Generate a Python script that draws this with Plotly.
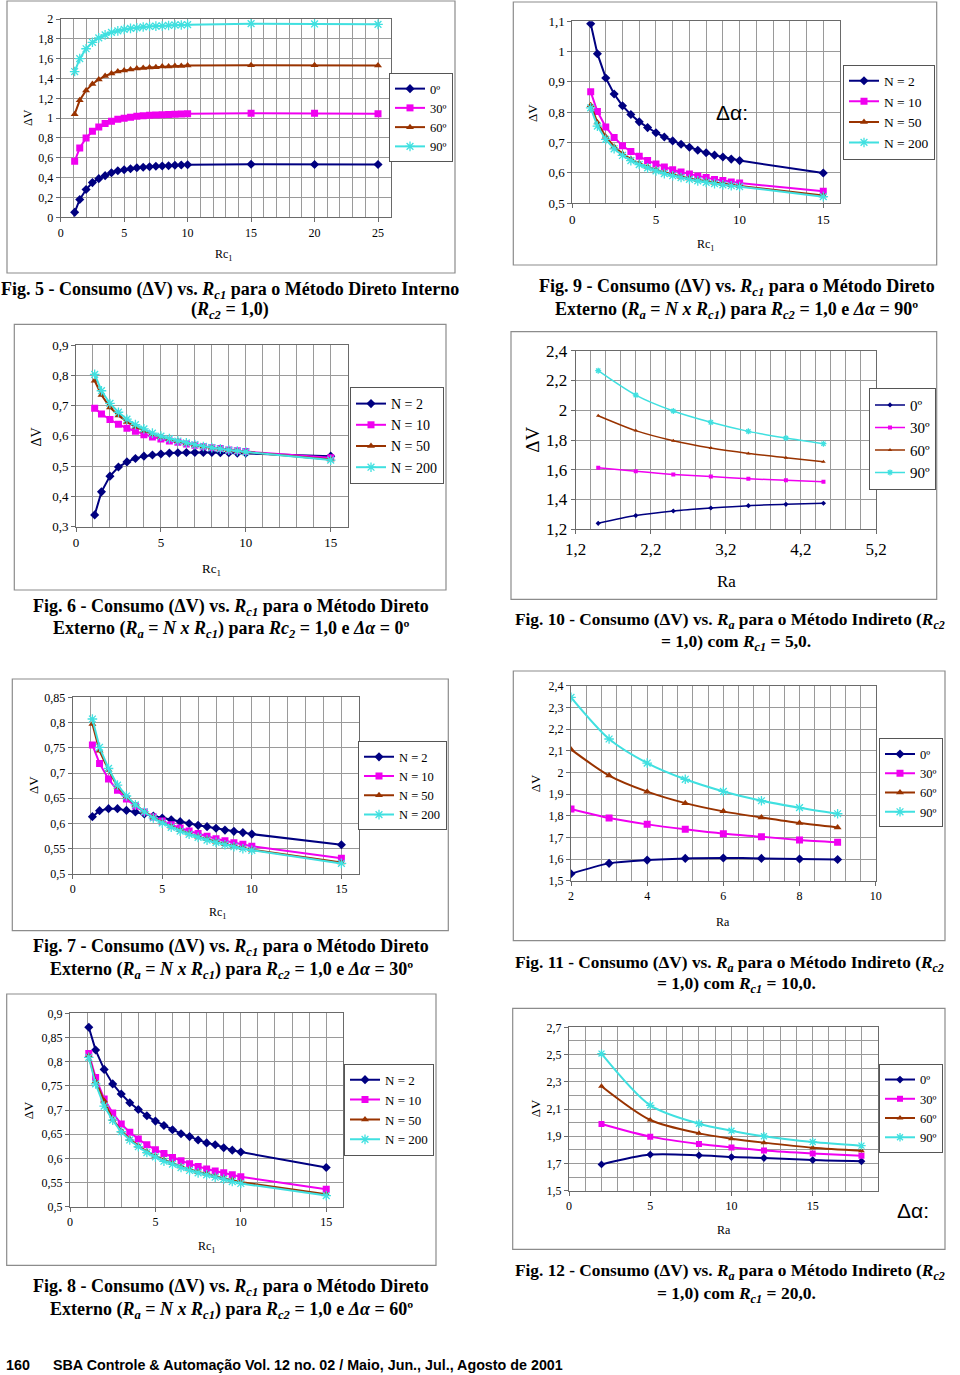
import plotly.graph_objects as go

W, H = 960, 1375
SERIF = "Liberation Serif"
SANS = "Liberation Sans"

# ---------------- data ----------------
RC1_LONG = [1.1, 1.5, 2.0, 2.5, 3.0, 3.5, 4.0, 4.5, 5.0, 5.5, 6.0, 6.5, 7.0, 7.5, 8.0, 8.5, 9.0, 9.5, 10.0, 15.0, 20.0, 25.0]
RC1 = [1.1, 1.5, 2.0, 2.5, 3.0, 3.5, 4.0, 4.5, 5.0, 5.5, 6.0, 6.5, 7.0, 7.5, 8.0, 8.5, 9.0, 9.5, 10.0, 15.0]
RA_F10 = [1.5, 2.0, 2.5, 3.0, 3.5, 4.0, 4.5]
RA_F11 = [2, 3, 4, 5, 6, 7, 8, 9]
RA_F12 = [2, 5, 8, 10, 12, 15, 18]

ANGLE_NAMES = ["0º", "30º", "60º", "90º"]
N_NAMES = ["N = 2", "N = 10", "N = 50", "N = 200"]

F5_0 = [0.05, 0.18, 0.28, 0.35, 0.39, 0.42, 0.45, 0.47, 0.48, 0.49, 0.50, 0.505, 0.51, 0.515, 0.518, 0.52, 0.525, 0.527, 0.53, 0.535, 0.533, 0.532]
F5_30 = [0.565, 0.70, 0.80, 0.867, 0.91, 0.945, 0.968, 0.988, 1.0, 1.01, 1.018, 1.025, 1.028, 1.031, 1.035, 1.037, 1.04, 1.043, 1.045, 1.05, 1.05, 1.045]
F5_60 = [1.04, 1.18, 1.28, 1.345, 1.39, 1.425, 1.45, 1.47, 1.48, 1.49, 1.50, 1.505, 1.51, 1.513, 1.52, 1.522, 1.525, 1.527, 1.53, 1.533, 1.533, 1.53]
F5_90 = [1.47, 1.60, 1.70, 1.765, 1.81, 1.84, 1.865, 1.88, 1.895, 1.905, 1.91, 1.92, 1.925, 1.928, 1.93, 1.935, 1.94, 1.94, 1.943, 1.953, 1.95, 1.946]

F9_2 = [1.092, 0.993, 0.913, 0.86, 0.821, 0.792, 0.768, 0.749, 0.732, 0.718, 0.705, 0.694, 0.684, 0.674, 0.666, 0.658, 0.652, 0.645, 0.64, 0.599]
F9_10 = [0.867, 0.802, 0.751, 0.716, 0.689, 0.67, 0.654, 0.64, 0.629, 0.619, 0.61, 0.602, 0.596, 0.589, 0.584, 0.578, 0.574, 0.569, 0.566, 0.539]
F9_50 = [0.823, 0.766, 0.719, 0.686, 0.663, 0.645, 0.631, 0.62, 0.61, 0.601, 0.594, 0.587, 0.581, 0.576, 0.572, 0.567, 0.563, 0.559, 0.556, 0.525]
F9_200 = [0.814, 0.754, 0.71, 0.679, 0.657, 0.64, 0.627, 0.616, 0.606, 0.597, 0.59, 0.584, 0.578, 0.573, 0.568, 0.564, 0.56, 0.557, 0.554, 0.521]

F6_2 = [0.339, 0.415, 0.467, 0.497, 0.514, 0.525, 0.533, 0.537, 0.54, 0.543, 0.544, 0.545, 0.545, 0.545, 0.545, 0.544, 0.544, 0.543, 0.543, 0.533]
F6_10 = [0.691, 0.672, 0.654, 0.638, 0.625, 0.615, 0.604, 0.596, 0.59, 0.583, 0.579, 0.573, 0.569, 0.564, 0.561, 0.558, 0.553, 0.551, 0.548, 0.528]
F6_50 = [0.782, 0.735, 0.694, 0.667, 0.646, 0.63, 0.617, 0.605, 0.596, 0.589, 0.582, 0.575, 0.57, 0.565, 0.561, 0.557, 0.553, 0.55, 0.547, 0.522]
F6_200 = [0.803, 0.749, 0.707, 0.678, 0.655, 0.637, 0.623, 0.609, 0.599, 0.591, 0.583, 0.577, 0.571, 0.565, 0.561, 0.557, 0.553, 0.55, 0.547, 0.52]

F10_0 = [1.24, 1.292, 1.323, 1.343, 1.359, 1.368, 1.375]
F10_30 = [1.614, 1.59, 1.569, 1.554, 1.54, 1.529, 1.52]
F10_60 = [1.963, 1.863, 1.795, 1.746, 1.71, 1.681, 1.654]
F10_90 = [2.266, 2.102, 1.995, 1.919, 1.858, 1.813, 1.775]

F7_2 = [0.6136, 0.6255, 0.6294, 0.6294, 0.626, 0.623, 0.619, 0.615, 0.611, 0.6076, 0.6037, 0.600, 0.5964, 0.5938, 0.5905, 0.587, 0.5845, 0.582, 0.579, 0.558]
F7_10 = [0.7556, 0.719, 0.688, 0.6657, 0.6486, 0.6347, 0.623, 0.613, 0.605, 0.5977, 0.591, 0.5852, 0.58, 0.5746, 0.57, 0.566, 0.562, 0.5588, 0.555, 0.531]
F7_50 = [0.797, 0.744, 0.706, 0.673, 0.653, 0.637, 0.6235, 0.612, 0.602, 0.594, 0.5865, 0.58, 0.574, 0.5687, 0.564, 0.5594, 0.5555, 0.5515, 0.548, 0.523]
F7_200 = [0.807, 0.751, 0.709, 0.676, 0.6545, 0.637, 0.623, 0.611, 0.601, 0.5925, 0.585, 0.5786, 0.5726, 0.567, 0.5627, 0.558, 0.554, 0.55, 0.547, 0.521]

F11_0 = [1.532, 1.58, 1.595, 1.603, 1.605, 1.603, 1.6, 1.598]
F11_30 = [1.831, 1.789, 1.76, 1.737, 1.717, 1.703, 1.688, 1.677]
F11_60 = [2.106, 1.985, 1.911, 1.858, 1.82, 1.792, 1.766, 1.746]
F11_90 = [2.346, 2.154, 2.043, 1.968, 1.912, 1.869, 1.837, 1.809]

F8_2 = [0.871, 0.824, 0.784, 0.754, 0.733, 0.715, 0.701, 0.688, 0.677, 0.668, 0.659, 0.651, 0.645, 0.638, 0.632, 0.628, 0.622, 0.617, 0.613, 0.581]
F8_10 = [0.817, 0.767, 0.723, 0.694, 0.671, 0.654, 0.64, 0.628, 0.618, 0.61, 0.602, 0.595, 0.589, 0.583, 0.578, 0.574, 0.57, 0.566, 0.562, 0.536]
F8_50 = [0.812, 0.759, 0.719, 0.681, 0.657, 0.64, 0.626, 0.614, 0.605, 0.597, 0.59, 0.583, 0.577, 0.572, 0.568, 0.563, 0.559, 0.555, 0.551, 0.526]
F8_200 = [0.809, 0.754, 0.708, 0.679, 0.655, 0.638, 0.624, 0.612, 0.603, 0.594, 0.588, 0.581, 0.575, 0.57, 0.566, 0.561, 0.557, 0.552, 0.548, 0.523]

F12_0 = [1.693, 1.765, 1.76, 1.747, 1.74, 1.725, 1.716]
F12_30 = [1.99, 1.897, 1.843, 1.818, 1.796, 1.774, 1.757]
F12_60 = [2.267, 2.019, 1.921, 1.882, 1.853, 1.816, 1.794]
F12_90 = [2.507, 2.127, 1.992, 1.941, 1.9, 1.858, 1.831]

# ---------------- styles ----------------
COLORS = ["#000080", "#F000F0", "#993300", "#40E0E0"]
SYMBOLS = ["diamond", "square", "triangle-up", "asterisk-open"]
GRID = "#9a9a9a"
AXLINE = "#6a6a6a"

RC1_T = "Rc<sub>1</sub>"

panels = [
    dict(x=RC1_LONG, ys=[F5_0, F5_30, F5_60, F5_90], names=ANGLE_NAMES,
         plot=(60.7, 19, 390.7, 217.3), xr=[0, 26], yr=[0, 2], xdt=5, xmin=1, x0=0, ydt=0.2, ymin=None, y0=0,
         tf=12, leg=(453, 117.5, 12.5), ms=7, lw=2, spline=False,
         yt=(28, 118, 12), xt=(224, 255, 12, RC1_T), box=(7, 1, 455, 273)),
    dict(x=RC1, ys=[F9_2, F9_10, F9_50, F9_200], names=N_NAMES,
         plot=(572.3, 21.3, 840, 203), xr=[0, 16], yr=[0.5, 1.1], xdt=5, xmin=1, x0=0, ydt=0.1, ymin=None, y0=0,
         tf=13, leg=(935, 112, 13.5), ms=7, lw=2, spline=False,
         yt=(533, 113, 13), xt=(706, 245, 12, RC1_T), box=(513.3, 2, 936.7, 265)),
    dict(x=RC1, ys=[F6_2, F6_10, F6_50, F6_200], names=N_NAMES,
         plot=(76, 345, 347.7, 526.7), xr=[0, 16], yr=[0.3, 0.9], xdt=5, xmin=1, x0=0, ydt=0.1, ymin=None, y0=0,
         tf=13, leg=(444, 435.5, 14), ms=7, lw=2, spline=False,
         yt=(36.7, 436.7, 14), xt=(211, 569, 13, RC1_T), box=(14.3, 324.3, 446, 590)),
    dict(x=RA_F10, ys=[F10_0, F10_30, F10_60, F10_90], names=ANGLE_NAMES,
         plot=(575.7, 350.7, 876, 529.3), xr=[1.2, 5.2], yr=[1.2, 2.4], xdt=1, xmin=0.2, x0=1.2, ydt=0.2, ymin=None, y0=0,
         tf=17, leg=(936, 438.7, 15), ms=4, lw=1.5, spline=True,
         yt=(531.7, 440, 19), xt=(726, 581.7, 17, "Ra"), box=(511, 331.7, 936.7, 599.3)),
    dict(x=RC1, ys=[F7_2, F7_10, F7_50, F7_200], names=N_NAMES,
         plot=(72.7, 697.3, 359.3, 874), xr=[0, 16], yr=[0.5, 0.85], xdt=5, xmin=1, x0=0, ydt=0.05, ymin=None, y0=0,
         tf=12, leg=(447, 785.7, 12.5), ms=7, lw=2, spline=False,
         yt=(33, 785, 13), xt=(217.7, 912.7, 12, RC1_T), box=(12.3, 679, 448.3, 930.7)),
    dict(x=RA_F11, ys=[F11_0, F11_30, F11_60, F11_90], names=ANGLE_NAMES,
         plot=(571, 685.7, 875.7, 880.7), xr=[2, 10], yr=[1.5, 2.4], xdt=2, xmin=0.4, x0=2, ydt=0.1, ymin=None, y0=0,
         tf=12, leg=(943, 782.9, 12.5), ms=7, lw=2, spline=True,
         yt=(535, 783.3, 13), xt=(723.3, 921.7, 12, "Ra"), box=(513.3, 671, 945, 940.7)),
    dict(x=RC1, ys=[F8_2, F8_10, F8_50, F8_200], names=N_NAMES,
         plot=(70, 1013.3, 343.3, 1206.7), xr=[0, 16], yr=[0.5, 0.9], xdt=5, xmin=1, x0=0, ydt=0.05, ymin=None, y0=0,
         tf=12, leg=(434, 1109.7, 13), ms=7, lw=2, spline=False,
         yt=(28.3, 1110, 13), xt=(206.7, 1246.7, 12, RC1_T), box=(6.7, 994, 436, 1265.3)),
    dict(x=RA_F12, ys=[F12_0, F12_30, F12_60, F12_90], names=ANGLE_NAMES,
         plot=(569, 1027.3, 877.7, 1190.7), xr=[0, 19], yr=[1.5, 2.7], xdt=5, xmin=1, x0=0, ydt=0.2, ymin=0.1, y0=1.5,
         tf=12, leg=(943, 1108.4, 12.5), ms=6, lw=2, spline=True,
         yt=(535, 1108.3, 13), xt=(724, 1230, 12, "Ra"), box=(512.7, 1008.3, 945, 1249.3)),
]

# (text, x, y, anchor, font size)
CAPTIONS = [
    ("<b>Fig. 5 - Consumo (ΔV) vs. <i>R<sub>c1</sub></i> para o Método Direto Interno</b>", 230, 290, "center", 18),
    ("<b>(<i>R<sub>c2</sub></i> = 1,0)</b>", 230, 311, "center", 18),
    ("<b>Fig. 9 - Consumo (ΔV) vs. <i>R<sub>c1</sub></i> para o Método Direto</b>", 737, 287, "center", 18),
    ("<b>Externo (<i>R<sub>a</sub></i> = <i>N x R<sub>c1</sub></i>) para <i>R<sub>c2</sub></i> = 1,0 e <i>Δα</i> = 90º</b>", 736, 310, "center", 18),
    ("<b>Fig. 6 - Consumo (ΔV) vs. <i>R<sub>c1</sub></i> para o Método Direto</b>", 231, 607.3, "center", 18),
    ("<b>Externo (<i>R<sub>a</sub></i> = <i>N x R<sub>c1</sub></i>) para <i>Rc<sub>2</sub></i> = 1,0 e <i>Δα</i> = 0º</b>", 231, 629.3, "center", 18),
    ("<b>Fig. 10 - Consumo (ΔV) vs. <i>R<sub>a</sub></i> para o Método Indireto (<i>R<sub>c2</sub></i></b>", 513, 621, "left", 17.3),
    ("<b>= 1,0) com <i>R<sub>c1</sub></i> = 5,0.</b>", 736, 642.5, "center", 17.5),
    ("<b>Fig. 7 - Consumo (ΔV) vs. <i>R<sub>c1</sub></i> para o Método Direto</b>", 231, 947.7, "center", 18),
    ("<b>Externo (<i>R<sub>a</sub></i> = <i>N x R<sub>c1</sub></i>) para <i>R<sub>c2</sub></i> = 1,0 e <i>Δα</i> = 30º</b>", 231, 970, "center", 18),
    ("<b>Fig. 11 - Consumo (ΔV) vs. <i>R<sub>a</sub></i> para o Método Indireto (<i>R<sub>c2</sub></i></b>", 513, 963.5, "left", 17.3),
    ("<b>= 1,0) com <i>R<sub>c1</sub></i> = 10,0.</b>", 736, 985, "center", 17.5),
    ("<b>Fig. 8 - Consumo (ΔV) vs. <i>R<sub>c1</sub></i> para o Método Direto</b>", 231, 1287.7, "center", 18),
    ("<b>Externo (<i>R<sub>a</sub></i> = <i>N x R<sub>c1</sub></i>) para <i>R<sub>c2</sub></i> = 1,0 e <i>Δα</i> = 60º</b>", 231, 1310, "center", 18),
    ("<b>Fig. 12 - Consumo (ΔV) vs. <i>R<sub>a</sub></i> para o Método Indireto (<i>R<sub>c2</sub></i></b>", 513, 1271.5, "left", 17.3),
    ("<b>= 1,0) com <i>R<sub>c1</sub></i> = 20,0.</b>", 736, 1294, "center", 17.5),
]


def px(xp):
    return xp / W


def py(yp):
    return 1 - yp / H


fig = go.Figure()
layout = dict(
    width=W, height=H, margin=dict(l=0, r=0, t=0, b=0, pad=0, autoexpand=False),
    paper_bgcolor="white", plot_bgcolor="white", separators=",.",
    font=dict(family=SERIF, color="black"),
)
annotations = []
shapes = []

for i, p in enumerate(panels):
    k = "" if i == 0 else str(i + 1)
    xname, yname = "x" + k, "y" + k
    legname = "legend" + k
    x0p, y0p, x1p, y1p = p["plot"]
    for j in range(4):
        sym = SYMBOLS[j]
        marker = dict(symbol=sym, size=p["ms"] + (1 if j == 3 else 0), color=COLORS[j],
                      line=dict(width=1.3 if j == 3 else 0, color=COLORS[j]))
        fig.add_trace(go.Scatter(
            x=p["x"], y=p["ys"][j], name=p["names"][j], mode="lines+markers",
            line=dict(color=COLORS[j], width=p["lw"], shape="spline" if p["spline"] else "linear",
                      smoothing=0.8),
            marker=marker, xaxis=xname, yaxis=yname, legend=legname, showlegend=True,
            hoverinfo="x+y+name"))

    axcommon = dict(showgrid=True, gridcolor=GRID, gridwidth=1, zeroline=False,
                    showline=True, linecolor=AXLINE, linewidth=1, mirror=True,
                    ticks="outside", ticklen=4, tickcolor=AXLINE, automargin=False,
                    tickfont=dict(family=SERIF, size=p["tf"], color="black"), fixedrange=True)
    xa = dict(axcommon, domain=[px(x0p), px(x1p)], range=p["xr"], anchor=yname,
              tick0=p["x0"], dtick=p["xdt"],
              minor=dict(tick0=p["x0"], dtick=p["xmin"], showgrid=True, gridcolor=GRID, gridwidth=1))
    ya = dict(axcommon, domain=[py(y1p), py(y0p)], range=p["yr"], anchor=xname,
              tick0=p["y0"], dtick=p["ydt"])
    if p["ymin"]:
        ya["minor"] = dict(tick0=p["y0"], dtick=p["ymin"], showgrid=True, gridcolor=GRID, gridwidth=1)
    layout["xaxis" + k] = xa
    layout["yaxis" + k] = ya

    rx, cy, lf = p["leg"]
    layout[legname] = dict(x=px(rx), xanchor="right", y=py(cy), yanchor="middle",
                           bgcolor="white", bordercolor="#555", borderwidth=1,
                           font=dict(family=SERIF, size=lf, color="black"),
                           itemwidth=30, tracegroupgap=0, traceorder="normal")

    # axis titles
    tx, ty, tfs = p["yt"]
    annotations.append(dict(text="ΔV", x=px(tx), y=py(ty), xref="paper", yref="paper",
                            showarrow=False, textangle=-90, xanchor="center", yanchor="middle",
                            font=dict(family=SERIF, size=tfs, color="black")))
    tx, ty, tfs, ttext = p["xt"]
    annotations.append(dict(text=ttext, x=px(tx), y=py(ty), xref="paper", yref="paper",
                            showarrow=False, xanchor="center", yanchor="middle",
                            font=dict(family=SERIF, size=tfs, color="black")))
    bx0, by0, bx1, by1 = p["box"]
    shapes.append(dict(type="rect", xref="paper", yref="paper", x0=px(bx0), x1=px(bx1),
                       y0=py(by1), y1=py(by0), line=dict(color="#8c8c8c", width=1.2)))

# Δα labels
for (tx, ty) in [(731.7, 113), (913.3, 1210)]:
    annotations.append(dict(text="Δα:", x=px(tx), y=py(ty), xref="paper", yref="paper",
                            showarrow=False, xanchor="center", yanchor="middle",
                            font=dict(family=SANS, size=21, color="black")))

for text, cx, cyy, anchor, fs in CAPTIONS:
    annotations.append(dict(text=text, x=px(cx), y=py(cyy), xref="paper", yref="paper",
                            showarrow=False, xanchor=anchor, yanchor="middle",
                            font=dict(family=SERIF, size=fs, color="black")))

annotations.append(dict(text="<b>160</b>", x=px(4), y=py(1365), xref="paper", yref="paper",
                        showarrow=False, xanchor="left", yanchor="middle",
                        font=dict(family=SANS, size=14.3, color="black")))
annotations.append(dict(text="<b>SBA Controle &amp; Automação Vol. 12 no. 02 / Maio, Jun., Jul., Agosto de 2001</b>",
                        x=px(51), y=py(1365), xref="paper", yref="paper",
                        showarrow=False, xanchor="left", yanchor="middle",
                        font=dict(family=SANS, size=14.3, color="black")))

layout["annotations"] = annotations
layout["shapes"] = shapes
fig.update_layout(**layout)
fig.write_html("out.html")
